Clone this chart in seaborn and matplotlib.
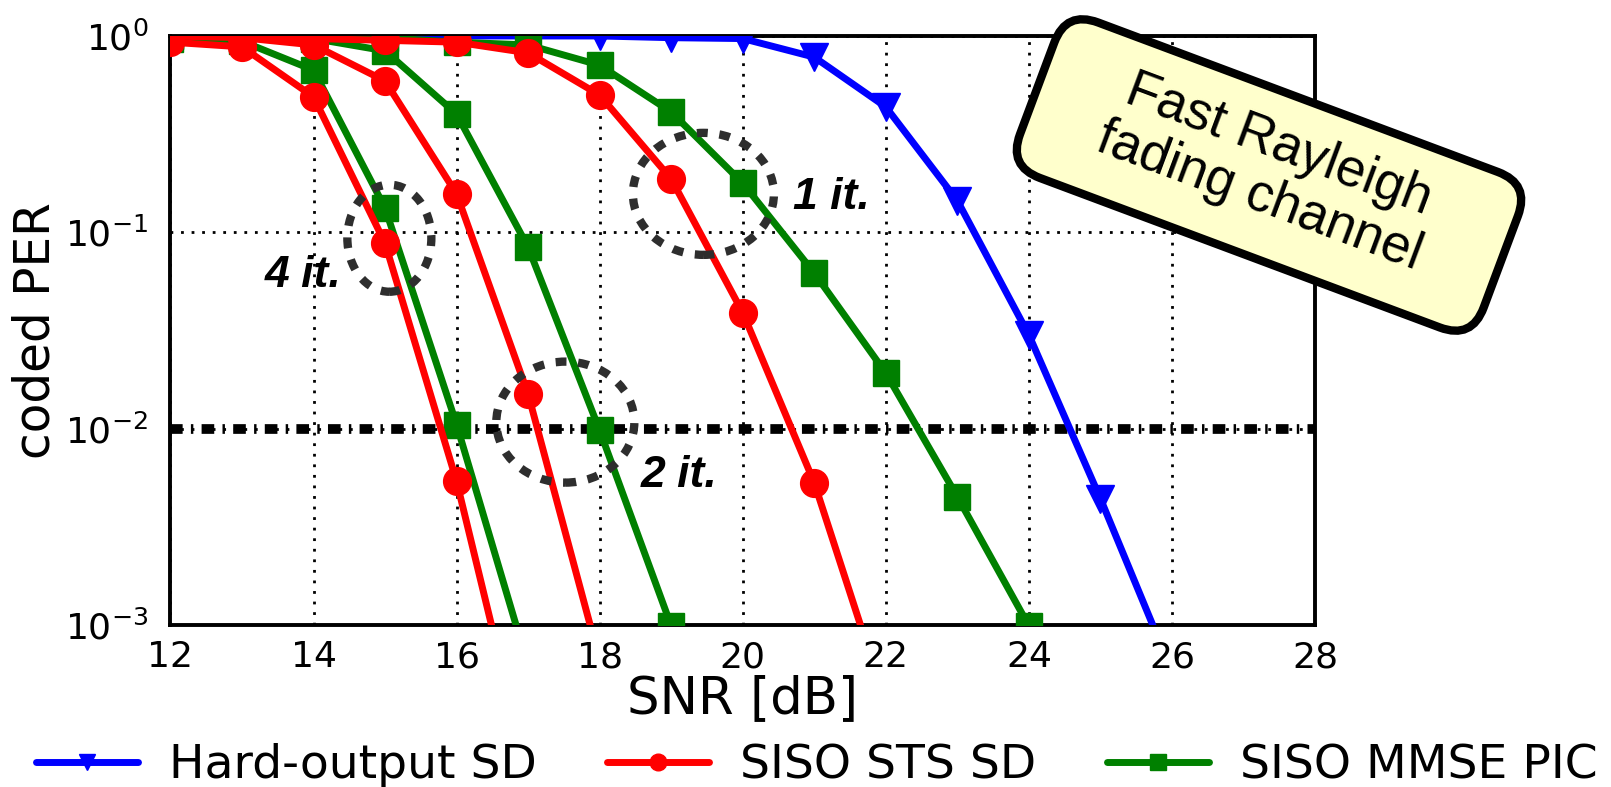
import numpy as np
import pandas as pd
import matplotlib
matplotlib.use("Agg")
import matplotlib.pyplot as plt
import seaborn as sns
from matplotlib.patches import Ellipse, FancyBboxPatch
from matplotlib.lines import Line2D
from matplotlib.transforms import ScaledTranslation, Affine2D
from matplotlib.ticker import NullLocator, FixedLocator

# ---------------- data ----------------
snr_hard = [12, 13, 14, 15, 16, 17, 18, 19, 20, 21, 22, 23, 24, 25, 26]
per_hard = [1.0, 1.0, 1.0, 1.0, 1.0, 1.0, 1.0, 0.98, 0.97, 0.78, 0.435, 0.145, 0.03, 0.0044, 0.00058]

snr_sts_4 = [12, 13, 14, 15, 16, 17]
per_sts_4 = [0.93, 0.88, 0.49, 0.088, 0.0054, 0.00017]
snr_sts_2 = [12, 13, 14, 15, 16, 17, 18]
per_sts_2 = [1.0, 0.98, 0.9, 0.59, 0.157, 0.015, 0.00066]
snr_sts_1 = [12, 13, 14, 15, 16, 17, 18, 19, 20, 21, 22]
per_sts_1 = [1.0, 1.0, 0.97, 0.95, 0.93, 0.82, 0.5, 0.187, 0.039, 0.0053, 0.0004]

snr_mmse_4 = [12, 13, 14, 15, 16, 17]
per_mmse_4 = [0.97, 0.94, 0.67, 0.133, 0.0105, 0.00062]
snr_mmse_2 = [12, 13, 14, 15, 16, 17, 18, 19]
per_mmse_2 = [1.0, 1.0, 0.97, 0.84, 0.40, 0.084, 0.0098, 0.00099]
snr_mmse_1 = [12, 13, 14, 15, 16, 17, 18, 19, 20, 21, 22, 23, 24]
per_mmse_1 = [1.0, 1.0, 1.0, 0.98, 0.93, 0.9, 0.71, 0.41, 0.178, 0.062, 0.0192, 0.0045, 0.00099]

legend_labels = ["Hard-output SD", "SISO STS SD", "SISO MMSE PIC"]
x_ticks = [12, 14, 16, 18, 20, 22, 24, 26, 28]
y_ticks = [1e-3, 1e-2, 1e-1, 1e0]
target_per = 1e-2

# ---------------- style ----------------
sns.set_theme(style="white")
plt.rcParams["font.family"] = ["DejaVu Sans"]
plt.rcParams["axes.unicode_minus"] = False
plt.rcParams["text.color"] = "black"

C_BLUE, C_RED, C_GREEN = "#0000FF", "#FF0000", "#008000"
LW = 5
MS = 20

fig = plt.figure(figsize=(16.11, 7.87), dpi=100)
ax = fig.add_axes([0.1058, 0.2058, 0.7105, 0.7485])
ax.set_yscale("log")
ax.set_xlim(12, 28)
ax.set_ylim(1e-3, 1)

def curve(x, y, color, marker, ms=MS):
    sns.lineplot(x=x, y=y, ax=ax, color=color, lw=LW, marker=marker,
                 markersize=ms, markeredgecolor=color, markeredgewidth=1,
                 markerfacecolor=color, legend=False, zorder=3)

curve(snr_hard, per_hard, C_BLUE, "v")
curve(snr_mmse_1, per_mmse_1, C_GREEN, "s", 19)
curve(snr_mmse_2, per_mmse_2, C_GREEN, "s", 19)
curve(snr_mmse_4, per_mmse_4, C_GREEN, "s", 19)
curve(snr_sts_1, per_sts_1, C_RED, "o")
curve(snr_sts_2, per_sts_2, C_RED, "o")
curve(snr_sts_4, per_sts_4, C_RED, "o")

ax.axhline(target_per, color="black", lw=7, ls=(0, (1.3, 0.85, 0.25, 0.85)),
           dash_capstyle="butt", zorder=2)

ax.set_xlim(12, 28)
ax.set_ylim(1e-3, 1)
ax.xaxis.set_major_locator(FixedLocator(x_ticks))
ax.yaxis.set_major_locator(FixedLocator(y_ticks))
ax.yaxis.set_minor_locator(NullLocator())
ax.set_yticklabels([r"$10^{-3}$", r"$10^{-2}$", r"$10^{-1}$", r"$10^{0}$"])
ax.tick_params(axis="both", length=0, labelsize=26, colors="black")
ax.tick_params(axis="x", pad=11)
ax.tick_params(axis="y", pad=16)
ax.grid(True, color="black", lw=2, ls=(0, (1, 2.8)))
ax.set_axisbelow(True)
for s in ax.spines.values():
    s.set_color("black")
    s.set_linewidth(2.8)
    s.set_visible(True)

ax.set_xlabel("SNR [dB]", fontsize=37, color="black", labelpad=0)
ax.set_ylabel("coded PER", fontsize=35, color="black", labelpad=4)

# ---------------- iteration annotations ----------------
ell_style = dict(fill=False, edgecolor="#2e2e2e", lw=6, ls=(0, (1.3, 1.4)), zorder=5)
ellipses = [((15.06, 0.0933), 0.84, 1.07),
            ((17.52, 0.0108), 1.38, 1.21),
            ((19.45, 0.157), 1.41, 1.22)]
for (cx, cy), w, h in ellipses:
    e = Ellipse((0, 0), w, h,
                transform=fig.dpi_scale_trans + ScaledTranslation(cx, cy, ax.transData),
                **ell_style)
    e.set_clip_on(False)
    ax.add_patch(e)

it_font = dict(fontsize=32, fontweight="bold", fontstyle="italic",
               family=["Liberation Sans", "DejaVu Sans"], ha="center", va="center",
               color="black", zorder=6)
ax.text(13.85, 0.0606, "4 it.", **it_font)
ax.text(19.11, 0.0058, "2 it.", **it_font)
ax.text(21.24, 0.150, "1 it.", **it_font)

# ---------------- rotated label box ----------------
cx_in, cy_in, ang = 12.69, 6.12, -20.5
bw, bh = 4.95, 1.66
box = FancyBboxPatch((-bw / 2, -bh / 2), bw, bh,
                     boxstyle="round,pad=0,rounding_size=0.34",
                     facecolor="#FFFFCC", edgecolor="black", lw=6,
                     transform=Affine2D().rotate_deg(ang).translate(cx_in, cy_in) + fig.dpi_scale_trans,
                     zorder=20)
fig.add_artist(box)
fig.text(cx_in / 16.11, (cy_in + 0.04) / 7.87, "Fast Rayleigh\nfading channel",
         rotation=ang, rotation_mode="anchor", ha="center", va="center",
         multialignment="center", fontsize=38, linespacing=1.12,
         family=["Liberation Sans", "DejaVu Sans"], color="black", zorder=21)

# ---------------- legend ----------------
handles = [Line2D([], [], color=C_BLUE, lw=LW, marker="v", markersize=MS, markeredgecolor=C_BLUE),
           Line2D([], [], color=C_RED, lw=LW, marker="o", markersize=MS, markeredgecolor=C_RED),
           Line2D([], [], color=C_GREEN, lw=LW, marker="s", markersize=MS, markeredgecolor=C_GREEN)]
leg = fig.legend(handles, legend_labels, loc="center", bbox_to_anchor=(0.507, 0.027),
                 ncol=3, frameon=False, fontsize=34, handlelength=2.15, handletextpad=0.66,
                 columnspacing=1.5, markerscale=0.6, borderpad=0, borderaxespad=0)
for t in leg.get_texts():
    t.set_color("black")

fig.savefig("out.png", dpi=100, facecolor="white")
